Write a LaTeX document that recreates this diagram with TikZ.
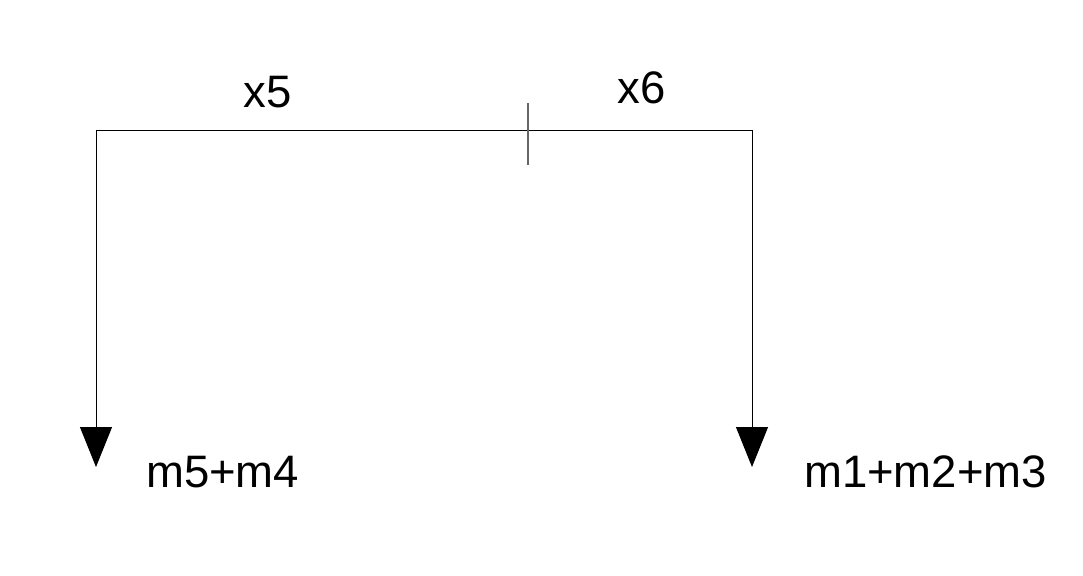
\documentclass[tikz,border=0pt]{standalone}
\usepackage{fontspec}
\setmainfont{Liberation Sans}
\usetikzlibrary{arrows.meta}
\tikzset{
  lbl/.style={inner sep=0pt, font=\fontsize{45.5}{54}\selectfont},
  rama/.style={line width=1pt, {Triangle[length=40pt,width=32pt]}-{Triangle[length=40pt,width=32pt]}}
}
\begin{document}
\begin{tikzpicture}[x=1pt,y=-1pt]
	\useasboundingbox (0,0) rectangle (1083,575);
	% Puntos
	\coordinate (lbot) at (96,467);
	\coordinate (rtop) at (752,130);
	\coordinate (rbot) at (752,467);
	\coordinate (corte1) at (528,103);
	\coordinate (corte2) at (528,165);
	% Rama
	\draw[rama] (lbot) |- (rtop) -- (rbot);
	\draw[line width=1.2pt, black!60] (corte1) -- (corte2);
	% Etiquetas
	\node[lbl, anchor=base] (x5) at (267.5,107) {x5};
	\node[lbl, anchor=base] (x6) at (642,103) {x6};
	\node[lbl, anchor=base west] (m54) at (146,487) {m5+m4};
	\node[lbl, anchor=base west] (m123) at (804,487) {m1+m2+m3};
\end{tikzpicture}
\end{document}
